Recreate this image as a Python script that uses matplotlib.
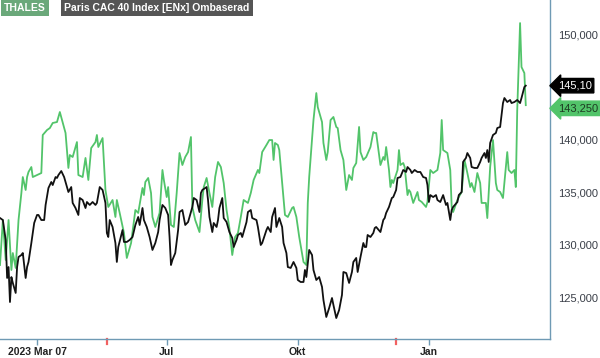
import matplotlib
matplotlib.use("Agg")
import matplotlib.pyplot as plt
import matplotlib.transforms as mtransforms
import pandas as pd
import numpy as np

plt.rcParams["font.family"] = ["Liberation Sans", "DejaVu Sans"]

start = pd.Timestamp("2023-03-06")

green_days = [0, 2, 4, 6, 8, 9, 11, 13, 15, 16, 18, 19, 20, 22, 23, 26, 29, 30, 33, 35, 37, 40, 42, 46, 48, 49, 51, 54, 55, 58, 60, 62, 64, 67, 68, 69, 72, 74, 76, 79, 81, 82, 84, 87, 89, 92, 95, 97, 100, 101, 102, 104, 106, 107, 109, 112, 114, 115, 117, 118, 120, 122, 124, 126, 128, 130, 132, 134, 135, 137, 140, 142, 143, 145, 147, 149, 151, 153, 155, 157, 159, 161, 163, 165, 167, 169, 171, 174, 176, 178, 181, 182, 184, 187, 189, 191, 192, 193, 195, 196, 200, 202, 205, 206, 208, 210, 213, 215, 216, 217, 220, 222, 223, 226, 227, 229, 230, 232, 234, 236, 237, 239, 241, 243, 245, 247, 248, 250, 252, 253, 255, 257, 260, 262, 263, 264, 267, 269, 270, 271, 273, 274, 275, 276, 279, 280, 281, 283, 284, 286, 287, 288, 290, 293, 294, 296, 299, 300, 302, 304, 307, 309, 310, 311, 314, 316, 317, 318, 321, 322, 324, 326, 328, 330, 331, 333, 335, 337, 338, 341, 342, 344, 346, 348, 349, 351, 353, 356, 357, 359, 361, 362, 363, 365, 366, 368, 369]
green_vals = [128080, 132350, 128560, 132350, 127610, 129220, 127800, 132350, 134910, 136430, 135200, 136430, 136910, 137380, 136430, 136620, 136810, 140420, 140890, 141080, 141560, 141650, 142600, 140610, 137290, 138520, 138330, 139750, 136620, 136430, 138240, 136150, 139180, 139750, 140420, 139280, 140130, 135200, 133590, 134250, 132640, 134250, 133020, 131120, 128750, 130170, 133300, 133020, 135390, 134720, 135960, 136340, 134910, 132640, 131690, 133020, 137100, 136150, 134530, 135480, 131880, 131690, 134910, 138710, 137570, 138330, 138800, 140230, 133590, 132350, 131210, 134250, 135480, 136340, 134910, 133590, 136430, 137860, 137380, 135860, 133300, 131590, 129030, 130740, 131120, 132640, 134250, 133970, 134910, 136150, 137100, 136810, 138800, 139470, 139940, 139940, 138050, 139660, 139470, 138990, 132830, 132640, 133490, 133590, 132640, 130740, 128370, 128080, 133970, 136430, 141840, 144400, 143070, 141650, 139660, 138050, 138800, 141840, 142130, 141180, 141080, 138990, 138050, 135200, 136620, 136150, 137290, 137760, 141180, 138800, 138050, 138330, 139280, 140700, 140610, 140610, 137570, 138330, 138050, 139280, 137100, 135480, 136150, 135860, 137100, 138990, 137570, 137760, 137380, 134720, 135200, 135010, 133970, 135010, 134250, 134060, 133590, 134060, 137100, 136810, 137100, 138710, 141840, 138990, 138710, 137100, 133590, 133110, 134250, 134530, 135010, 138050, 136810, 135480, 135860, 135010, 136810, 135860, 133970, 133970, 132540, 137380, 139940, 135860, 135200, 135010, 134440, 138800, 137100, 136810, 137100, 135480, 142790, 151040, 146870, 146300, 143250]

black_days = [0, 2, 4, 5, 6, 7, 8, 9, 11, 12, 13, 15, 16, 18, 19, 20, 22, 24, 26, 27, 29, 31, 32, 34, 36, 37, 39, 40, 41, 43, 45, 46, 48, 50, 51, 53, 55, 56, 58, 60, 61, 63, 65, 67, 68, 70, 72, 74, 75, 76, 77, 79, 81, 82, 83, 86, 87, 89, 91, 93, 95, 97, 98, 100, 101, 103, 105, 107, 109, 111, 112, 114, 116, 118, 119, 120, 121, 123, 125, 126, 128, 130, 132, 133, 135, 136, 138, 140, 141, 142, 145, 146, 147, 149, 150, 152, 153, 154, 156, 157, 159, 161, 163, 164, 166, 167, 169, 170, 173, 174, 176, 177, 180, 181, 183, 184, 187, 188, 190, 191, 193, 194, 196, 198, 199, 201, 202, 204, 206, 208, 209, 211, 213, 214, 215, 217, 219, 220, 222, 224, 226, 227, 229, 231, 233, 234, 236, 238, 240, 241, 243, 245, 247, 248, 250, 251, 253, 255, 256, 257, 258, 260, 262, 263, 264, 267, 269, 270, 271, 273, 275, 276, 278, 279, 281, 283, 285, 286, 288, 289, 291, 293, 295, 297, 299, 300, 301, 302, 304, 306, 307, 309, 311, 313, 314, 316, 317, 318, 321, 322, 324, 325, 327, 328, 330, 331, 333, 335, 337, 338, 340, 341, 342, 343, 344, 346, 348, 349, 351, 353, 354, 356, 358, 359, 361, 363, 365, 366, 368, 369]
black_vals = [132540, 132350, 130460, 126850, 127890, 124570, 126940, 126380, 125430, 127890, 128840, 129030, 129220, 126850, 127890, 128370, 130170, 132070, 132830, 132830, 132350, 132350, 133780, 135390, 135960, 135670, 136430, 136340, 136620, 137000, 136430, 135960, 135010, 135480, 133970, 133490, 132830, 134440, 134250, 133490, 134060, 133780, 134060, 133780, 133970, 135480, 135200, 133970, 131120, 130740, 132350, 131690, 130170, 128370, 129790, 131400, 130270, 130270, 130460, 130740, 131880, 132640, 131880, 133490, 132350, 131690, 130740, 129510, 130170, 131210, 132350, 133780, 133490, 132830, 130740, 128080, 128560, 129220, 131400, 133110, 133300, 131880, 132160, 132640, 133590, 134440, 134250, 133110, 134910, 135200, 135480, 134250, 132640, 131210, 132070, 131690, 132350, 133490, 134440, 132540, 132160, 131210, 130650, 129790, 130460, 130930, 131120, 130740, 132160, 133110, 133300, 132540, 132350, 131690, 129980, 130170, 131400, 131690, 131210, 132640, 133490, 131690, 132540, 131690, 130170, 129220, 127890, 127800, 128370, 127800, 126660, 126470, 126470, 127610, 126940, 129510, 129030, 127610, 126660, 126940, 126000, 124760, 123150, 124000, 124950, 124290, 123050, 123810, 125240, 127420, 127320, 126380, 127420, 128370, 128750, 127420, 128840, 130170, 129790, 129790, 130930, 130740, 131120, 131590, 131690, 131210, 132350, 132540, 133020, 133590, 134440, 134530, 135200, 136340, 136430, 137100, 136910, 137380, 137100, 136810, 137100, 136910, 136910, 136430, 136340, 135670, 134060, 134720, 134530, 134720, 134250, 134060, 134720, 133780, 133970, 132350, 133300, 133590, 134060, 134720, 135010, 137860, 138240, 138710, 138240, 137380, 137290, 137290, 137860, 138240, 138710, 138240, 138990, 137860, 139660, 140420, 140610, 141080, 141180, 143450, 143930, 143550, 143740, 143450, 143550, 143740, 143450, 143930, 144970, 145100]

y_ticks = [125000, 130000, 135000, 140000, 150000]
x_tick_dates = ["2023-04-01", "2023-07-01", "2023-10-01", "2024-01-01"]
x_tick_labels = ["2023 Mar 07", "Jul", "Okt", "Jan"]
event_dates = ["2023-05-20", "2023-12-09"]
green_name = "THALES"
black_name = "Paris CAC 40 Index [ENx] Ombaserad"

green_x = start + pd.to_timedelta(green_days, unit="D")
black_x = start + pd.to_timedelta(black_days, unit="D")

GREEN = "#52c46a"
SPINE = "#6f9ab4"

fig = plt.figure(figsize=(6.0, 3.58), dpi=100)
ax = fig.add_axes([0, 19 / 358, 550 / 600, 339 / 358])

ax.plot(green_x, green_vals, color=GREEN, lw=1.3, solid_joinstyle="round")
ax.plot(black_x, black_vals, color="#111111", lw=1.3, solid_joinstyle="round")

ax.set_xlim(start, start + pd.Timedelta(days=386))
ax.set_ylim(121060, 153230)

for s in ["top", "left"]:
    ax.spines[s].set_visible(False)
for s in ["right", "bottom"]:
    ax.spines[s].set_color(SPINE)
    ax.spines[s].set_linewidth(1.0)

ax.yaxis.tick_right()
ax.set_yticks(y_ticks)
ax.set_yticklabels([f"{v:,}" for v in y_ticks])
ax.tick_params(axis="y", length=0, pad=6, labelsize=8, labelcolor="#3a3f48")

ax.set_xticks(pd.to_datetime(x_tick_dates))
ax.set_xticklabels(x_tick_labels)
ax.tick_params(axis="x", length=4, width=1, color=SPINE, pad=2, labelsize=7.5)
for lbl in ax.get_xticklabels():
    lbl.set_fontweight("bold")
    lbl.set_color("#222222")

trans_x = mtransforms.blended_transform_factory(ax.transData, ax.transAxes)
for d in pd.to_datetime(event_dates):
    ax.plot([d, d], [0, -0.014], color="#f26060", lw=1.6, transform=trans_x, clip_on=False)

# price tags
trans_y = mtransforms.blended_transform_factory(ax.transAxes, ax.transData)
bl = black_vals[-1]
ax.text(1.014, 145100, f"{bl/1000:.2f}".replace(".", ","), transform=trans_y, ha="left", va="center",
        fontsize=8, color="white",
        bbox=dict(boxstyle="larrow,pad=0.2", fc="black", ec="black"), clip_on=False)
gv = green_vals[-1]
ax.text(1.014, gv - 300, f"{gv:,}", transform=trans_y, ha="left", va="center",
        fontsize=8, color="#1d3a22",
        bbox=dict(boxstyle="larrow,pad=0.2", fc=GREEN, ec=GREEN), clip_on=False)

# legend boxes
fig.text(4 / 600, 1 - 8 / 358, green_name, ha="left", va="center", fontsize=7.5, fontweight="bold",
         color="white", bbox=dict(boxstyle="square,pad=0.3", fc="#6aa87a", ec="none"))
fig.text(64 / 600, 1 - 8 / 358, black_name, ha="left", va="center", fontsize=7.5, fontweight="bold",
         color="white", bbox=dict(boxstyle="square,pad=0.3", fc="#555555", ec="none"))

fig.savefig("out.png", dpi=100)
